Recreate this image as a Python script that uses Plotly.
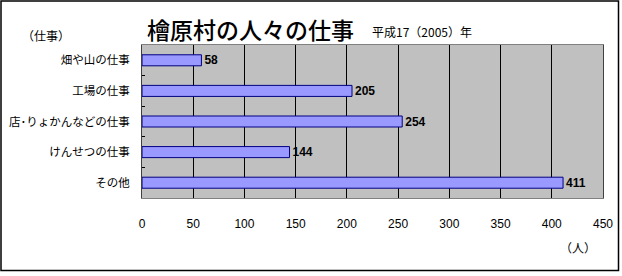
import plotly.graph_objects as go

categories = ["畑や山の仕事", "工場の仕事", "店･りょかんなどの仕事", "けんせつの仕事", "その他"]
values = [58, 205, 254, 144, 411]
x_ticks = [0, 50, 100, 150, 200, 250, 300, 350, 400, 450]

W, H = 622, 276
L, R, T, B = 142, 603, 45, 198
pw, ph = R - L, B - T

def px(x):
    return (x - L) / pw

def py(y):
    return (B - y) / ph

jp = "Noto Sans CJK JP, sans-serif"

fig = go.Figure(go.Bar(
    x=values, y=categories, orientation="h",
    marker=dict(color="#9999FF", line=dict(color="#000080", width=1)),
    width=0.36,
    text=[str(v) for v in values], textposition="outside", constraintext="none",
    textfont=dict(family="Liberation Sans, Arial, sans-serif", size=12, color="#000000", weight="bold"),
    cliponaxis=False,
))

fig.update_layout(
    width=W, height=H,
    margin=dict(l=L, r=W - R, t=T, b=H - B, autoexpand=False),
    paper_bgcolor="#FFFFFF", plot_bgcolor="#C0C0C0",
    showlegend=False,
    xaxis=dict(range=[0, 450], tickvals=x_ticks, ticktext=[str(v) for v in x_ticks],
               showgrid=True, gridcolor="#000000", gridwidth=1, automargin=False,
               showline=True, linecolor="#808080", linewidth=1, mirror=True,
               ticks="", ticklabelstandoff=15, zeroline=False,
               tickfont=dict(family="Liberation Sans, Arial, sans-serif", size=12, color="#000000")),
    yaxis=dict(categoryorder="array", categoryarray=categories, autorange="reversed",
               showline=True, linecolor="#404040", linewidth=1, mirror=True, automargin=False,
               ticks="inside", ticklen=3, tickcolor="#000000", tickson="boundaries",
               ticklabelstandoff=9, showgrid=False,
               tickfont=dict(family=jp, size=11.5, color="#000000")),
    font=dict(family=jp),
)

fig.add_annotation(text="檜原村の人々の仕事", x=px(145), y=py(29), xref="paper", yref="paper",
                   xanchor="left", yanchor="middle", showarrow=False,
                   font=dict(family=jp, size=23, color="#000000", weight=500))
fig.add_annotation(text="平成17（2005）年", x=px(370), y=py(31), xref="paper", yref="paper",
                   xanchor="left", yanchor="middle", showarrow=False,
                   font=dict(family=jp, size=12, color="#000000"))
fig.add_annotation(text="（仕事）", x=px(20), y=py(35), xref="paper", yref="paper",
                   xanchor="left", yanchor="middle", showarrow=False,
                   font=dict(family=jp, size=12, color="#000000"))
fig.add_annotation(text="（人）", x=px(578), y=py(247), xref="paper", yref="paper",
                   xanchor="center", yanchor="middle", showarrow=False,
                   font=dict(family=jp, size=12, color="#000000"))

fig.add_shape(type="rect", xref="paper", yref="paper",
              x0=px(1), x1=px(618.5), y0=py(270.5), y1=py(1),
              line=dict(color="#000000", width=1.5), fillcolor="rgba(0,0,0,0)")

fig.write_html("out.html")
